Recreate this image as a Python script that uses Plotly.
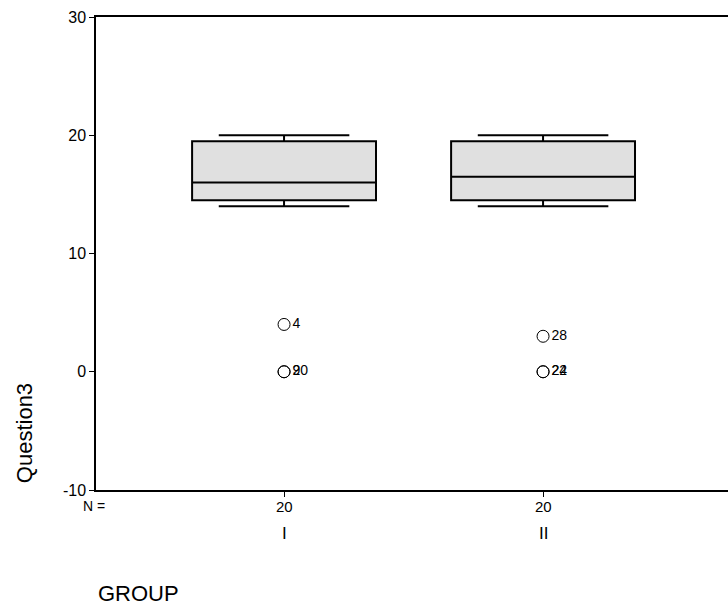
import plotly.graph_objects as go

# Summary statistics of Question3 per group
groups = ["I", "II"]
n_cases = [20, 20]
q1 = [14.5, 14.5]
median = [16.0, 16.5]
q3 = [19.5, 19.5]
lower_whisker = [14.0, 14.0]
upper_whisker = [20.0, 20.0]

# Outlying cases: group, value, case number
outlier_group = ["I", "I", "I", "II", "II", "II"]
outlier_value = [4, 0, 0, 3, 0, 0]
outlier_case = ["4", "9", "20", "28", "22", "24"]

y_ticks = [-10, 0, 10, 20, 30]
y_tick_text = ["-10", "0", "10", "20", "30"]

FONT = "Liberation Sans, Arial, sans-serif"

fig = go.Figure()

fig.add_trace(go.Box(
    x=groups,
    q1=q1,
    median=median,
    q3=q3,
    lowerfence=lower_whisker,
    upperfence=upper_whisker,
    boxpoints=False,
    width=0.71,
    whiskerwidth=0.71,
    fillcolor="#e0e0e0",
    line=dict(color="black", width=2),
    showlegend=False,
    hoverinfo="skip",
))

fig.add_trace(go.Scatter(
    x=outlier_group,
    y=outlier_value,
    text=outlier_case,
    mode="markers+text",
    textposition="middle right",
    marker=dict(symbol="circle-open", size=12, color="black", line=dict(width=1)),
    textfont=dict(family=FONT, size=14, color="black"),
    showlegend=False,
    cliponaxis=False,
))

# Case counts and group names under each box
for g, n in zip(groups, n_cases):
    fig.add_annotation(x=g, xref="x", y=-0.034, yref="paper", yanchor="middle",
                       text=str(n), showarrow=False,
                       font=dict(family=FONT, size=15, color="black"))
    fig.add_annotation(x=g, xref="x", y=-0.091, yref="paper", yanchor="middle",
                       text=g, showarrow=False,
                       font=dict(family=FONT, size=17, color="black"))

fig.add_annotation(x=-0.003, xref="paper", y=-0.034, yref="paper", yanchor="middle",
                   xanchor="center", text="N =", showarrow=False,
                   font=dict(family=FONT, size=14, color="black"))
fig.add_annotation(x=0.0, xref="paper", y=-0.218, yref="paper", yanchor="middle",
                   xanchor="left", text="GROUP", showarrow=False,
                   font=dict(family=FONT, size=22, color="black"))
fig.add_annotation(x=-0.114, xref="paper", y=0.12, yref="paper",
                   xanchor="center", yanchor="middle", textangle=-90,
                   text="Question3", showarrow=False,
                   font=dict(family=FONT, size=22, color="black"))

fig.update_layout(
    width=728,
    height=610,
    margin=dict(l=96, r=0, t=17, b=120),
    plot_bgcolor="white",
    paper_bgcolor="white",
    font=dict(family=FONT, color="black"),
    xaxis=dict(
        type="category",
        range=[-0.726, 1.714],
        showline=True, linecolor="black", linewidth=1.5,
        mirror=True,
        showgrid=False, zeroline=False,
        ticks="outside", ticklen=5, tickcolor="black",
        showticklabels=False,
    ),
    yaxis=dict(
        range=[-10, 30],
        tickvals=y_ticks,
        ticktext=y_tick_text,
        showline=True, linecolor="black", linewidth=1.5,
        showgrid=False, zeroline=False,
        ticks="outside", ticklen=5, tickcolor="black",
        tickfont=dict(family=FONT, size=16),
    ),
)

fig.write_html("out.html")
